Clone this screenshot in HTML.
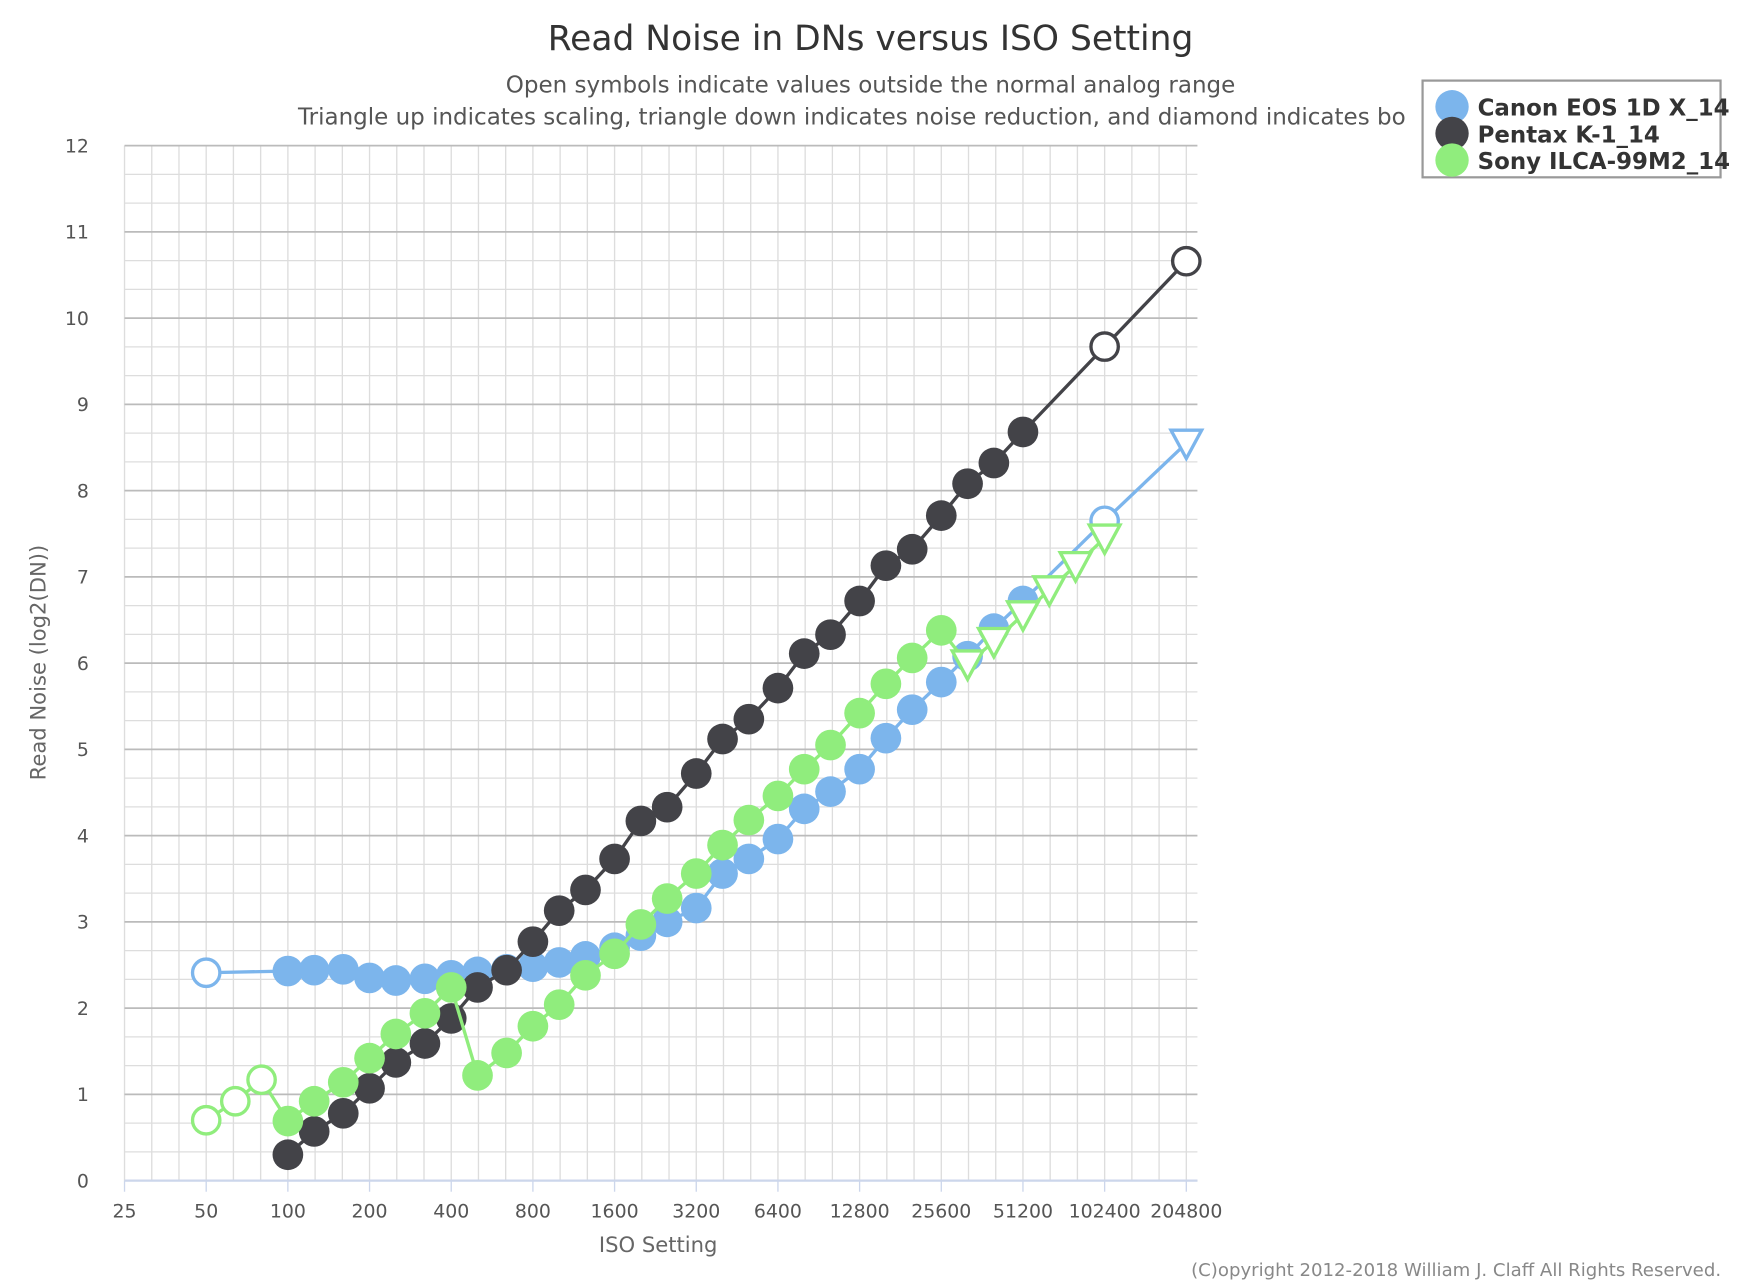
<!DOCTYPE html>
<html><head><meta charset="utf-8"><style>
html,body{margin:0;padding:0;background:#fff;}
svg{display:block;font-family:"DejaVu Sans","Liberation Sans",sans-serif;}
</style></head><body>
<svg id="chart" width="1740" height="1284" viewBox="0 0 1565 1155" preserveAspectRatio="none" xmlns="http://www.w3.org/2000/svg">
<text x="783" y="45" text-anchor="middle" font-size="31" fill="#333">Read Noise in DNs versus ISO Setting</text>
<text x="783" y="83" text-anchor="middle" font-size="20.7" fill="#555">Open symbols indicate values outside the normal analog range</text>
<text x="268" y="112" font-size="20.7" fill="#555">Triangle up indicates scaling, triangle down indicates noise reduction, and diamond indicates bo</text>
<g id="grid"></g>
<g id="axes"></g>
<g id="series"></g>
<text transform="translate(41,596) rotate(-90)" text-anchor="middle" font-size="19" fill="#666">Read Noise (log2(DN))</text>
<text x="592" y="1126" text-anchor="middle" font-size="19" fill="#666">ISO Setting</text>
<text x="1548" y="1148" text-anchor="end" font-size="16.3" fill="#888">(C)opyright 2012-2018 William J. Claff All Rights Reserved.</text>
<g>
<rect x="1279.5" y="72.5" width="268" height="87" fill="#fff" stroke="#999" stroke-width="2"/>
<g><circle cx="1306" cy="96" r="15" fill="#7cb5ec"/><text x="1329" y="104" font-size="20.6" font-weight="bold" fill="#333">Canon EOS 1D X_14</text></g>
<g><circle cx="1306" cy="120" r="15" fill="#434348"/><text x="1329" y="128" font-size="20.6" font-weight="bold" fill="#333">Pentax K-1_14</text></g>
<g><circle cx="1306" cy="144" r="15" fill="#90ed7d"/><text x="1329" y="152" font-size="20.6" font-weight="bold" fill="#333">Sony ILCA-99M2_14</text></g>
</g>
</svg>
<script>
const xTickLabels = ["25","50","100","200","400","800","1600","3200","6400","12800","25600","51200","102400","204800"];
const yTickLabels = ["0","1","2","3","4","5","6","7","8","9","10","11","12"];
const canonISO = [50,100,125,160,200,250,320,400,500,640,800,1000,1250,1600,2000,2500,3200,4000,5000,6400,8000,10000,12800,16000,20000,25600,32000,40000,51200,102400,204800];
const canonVal = [2.41,2.43,2.44,2.45,2.35,2.32,2.34,2.38,2.42,2.45,2.48,2.53,2.6,2.7,2.84,3.0,3.16,3.56,3.73,3.96,4.31,4.51,4.77,5.13,5.46,5.78,6.08,6.4,6.72,7.65,8.55];
const canonSym = ["o","f","f","f","f","f","f","f","f","f","f","f","f","f","f","f","f","f","f","f","f","f","f","f","f","f","f","f","f","o","tdo"];
const pentaxISO = [100,125,160,200,250,320,400,500,640,800,1000,1250,1600,2000,2500,3200,4000,5000,6400,8000,10000,12800,16000,20000,25600,32000,40000,51200,102400,204800];
const pentaxVal = [0.3,0.57,0.78,1.07,1.37,1.59,1.88,2.24,2.44,2.77,3.13,3.37,3.73,4.17,4.33,4.72,5.12,5.35,5.71,6.11,6.33,6.72,7.13,7.32,7.71,8.08,8.32,8.68,9.67,10.66];
const pentaxSym = ["f","f","f","f","f","f","f","f","f","f","f","f","f","f","f","f","f","f","f","f","f","f","f","f","f","f","f","f","o","o"];
const sonyISO = [50,64,80,100,125,160,200,250,320,400,500,640,800,1000,1250,1600,2000,2500,3200,4000,5000,6400,8000,10000,12800,16000,20000,25600,32000,40000,51200,64000,80000,102400];
const sonyVal = [0.7,0.92,1.17,0.69,0.92,1.14,1.42,1.7,1.94,2.24,1.22,1.48,1.79,2.04,2.38,2.63,2.97,3.27,3.56,3.89,4.18,4.46,4.77,5.05,5.42,5.76,6.06,6.38,5.99,6.25,6.56,6.85,7.13,7.45];
const sonySym = ["o","o","o","f","f","f","f","f","f","f","f","f","f","f","f","f","f","f","f","f","f","f","f","f","f","f","f","f","tdo","tdo","tdo","tdo","tdo","tdo"];

const NS="http://www.w3.org/2000/svg";
const L=112,R=1077,T=131,B=1062,X0=112,OCT=(1067-112)/13;
function xs(iso){return X0+Math.log2(iso/25)*OCT;}
function ys(v){return B-(v/12)*(B-T);}
function mk(tag,attrs,parent){const e=document.createElementNS(NS,tag);for(const k in attrs)e.setAttribute(k,attrs[k]);parent.appendChild(e);return e;}
const grid=document.getElementById('grid'),axes=document.getElementById('axes'),ser=document.getElementById('series');
for(let i=0;X0+i*OCT/3<=R+1;i++){const x=X0+i*OCT/3;const l=mk('line',{x1:x,x2:x,y1:T,y2:B,stroke:'#dddddd','stroke-width':1.2},grid);

}
for(let i=0;i<=36;i++){const v=i/3,y=ys(v);const major=i%3===0;const l=mk('line',{x1:L,x2:R,y1:y,y2:y,stroke:major?'#bbbbbb':'#dddddd','stroke-width':major?1.6:1.2},grid);

}
mk('line',{x1:L,x2:R,y1:B,y2:B,stroke:'#ccd6eb','stroke-width':2},axes);
yTickLabels.forEach((t,i)=>{const e=mk('text',{x:80,y:ys(+t)+6,'text-anchor':'end','font-size':17,fill:'#555'},axes);e.textContent=t;

});
xTickLabels.forEach((t,i)=>{const x=xs(+t);mk('line',{x1:x,x2:x,y1:B,y2:B+10,stroke:'#ccd6eb','stroke-width':1.2},axes);
const e=mk('text',{x:x,y:1095,'text-anchor':'middle','font-size':17,fill:'#555'},axes);e.textContent=t;

});
function drawSeries(name,isos,vals,syms,color){
  const g=mk('g',{},ser);
  
  
  const pts=isos.map((s,i)=>xs(s)+','+ys(vals[i])).join(' ');
  const pl=mk('polyline',{points:pts,fill:'none',stroke:color,'stroke-width':3},g);
  
  
  const r=13.8;
  isos.forEach((s,i)=>{const x=xs(s),y=ys(vals[i]);let m;
    if(syms[i]==='tdo'){m=mk('polygon',{points:`${x-r},${y-r*0.85} ${x+r},${y-r*0.85} ${x},${y+r}`,fill:'#fff',stroke:color,'stroke-width':3},g);}
    else if(syms[i]==='o'){m=mk('circle',{cx:x,cy:y,r:r-1.5,fill:'#fff',stroke:color,'stroke-width':3},g);}
    else{m=mk('circle',{cx:x,cy:y,r:r,fill:color},g);}
    
    });
}
drawSeries('canon',canonISO,canonVal,canonSym,'#7cb5ec');
drawSeries('pentax',pentaxISO,pentaxVal,pentaxSym,'#434348');
drawSeries('sony',sonyISO,sonyVal,sonySym,'#90ed7d');
</script>
</body></html>
